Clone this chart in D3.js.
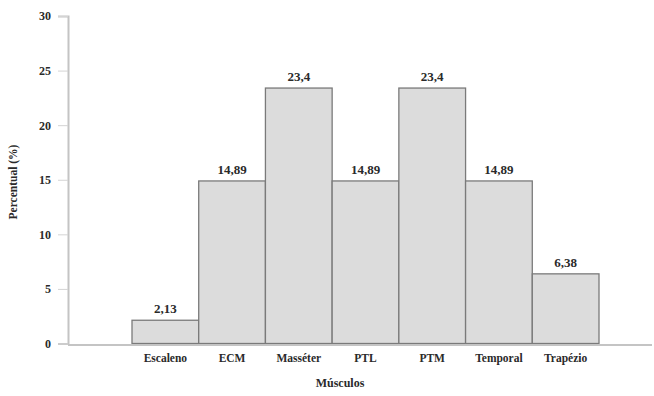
<!DOCTYPE html>
<html>
<head>
<meta charset="utf-8">
<script src="https://cdn.jsdelivr.net/npm/d3@7"></script>
<style>
  html, body { margin: 0; padding: 0; background: #fff; }
  svg { display: block; }
  svg text { font-family: "Liberation Serif", "Times New Roman", "DejaVu Serif", serif !important; font-weight: bold; fill: #2a2a2a; }
</style>
</head>
<body>
<svg id="chart" width="654" height="396"></svg>
<script>
// Muscle groups and their percentages
const categories = ["Escaleno", "ECM", "Masséter", "PTL", "PTM", "Temporal", "Trapézio"];
const values = [2.13, 14.89, 23.4, 14.89, 23.4, 14.89, 6.38];
const valueLabels = ["2,13", "14,89", "23,4", "14,89", "23,4", "14,89", "6,38"];
const yTicks = [0, 5, 10, 15, 20, 25, 30];

const serif = "'Liberation Serif', 'Times New Roman', 'DejaVu Serif', serif";
const svg = d3.select("#chart");

const axisX0 = 68, axisX1 = 652;
const y = d3.scaleLinear().domain([0, 30]).range([343.5, 16]);
const x = d3.scaleBand().domain(categories).range([132, 599]).paddingInner(0).paddingOuter(0);

// Bars
svg.append("g").selectAll("rect")
  .data(values)
  .join("rect")
  .attr("x", (d, i) => x(categories[i]))
  .attr("y", d => y(d))
  .attr("width", x.bandwidth())
  .attr("height", d => y(0) - y(d))
  .attr("fill", "#dcdcdc")
  .attr("stroke", "#7a7a7a")
  .attr("stroke-width", 1.3);

// Value labels above bars
svg.append("g").selectAll("text")
  .data(values)
  .join("text")
  .attr("x", (d, i) => x(categories[i]) + x.bandwidth() / 2)
  .attr("y", d => y(d) - 7)
  .attr("text-anchor", "middle")
  .attr("font-family", serif)
  .attr("font-size", 13)
  .text((d, i) => valueLabels[i]);

// Y axis
const yAxis = d3.axisLeft(y).tickValues(yTicks).tickSize(10).tickPadding(7);
const gy = svg.append("g").attr("transform", `translate(${axisX0},0)`).call(yAxis)
  .attr("font-family", serif);
gy.select(".domain").attr("stroke", "#c4c4c4").attr("stroke-width", 2);
gy.selectAll(".tick line").attr("stroke", "#d4d4d4").attr("stroke-width", 1);
gy.selectAll(".tick text")
  .attr("font-weight", "bold")
  .attr("font-size", 12)
  .attr("fill", "#2a2a2a");

// X axis baseline
svg.append("line")
  .attr("x1", axisX0).attr("x2", axisX1)
  .attr("y1", y(0) + 1.5).attr("y2", y(0) + 1.5)
  .attr("stroke", "#c4c4c4").attr("stroke-width", 2);

// Category labels
svg.append("g").selectAll("text")
  .data(categories)
  .join("text")
  .attr("x", d => x(d) + x.bandwidth() / 2)
  .attr("y", 362)
  .attr("text-anchor", "middle")
  .attr("font-family", serif)
  .attr("font-size", 11.5)
  .text(d => d);

// Axis titles
svg.append("text")
  .attr("x", 340).attr("y", 387)
  .attr("text-anchor", "middle")
  .attr("font-family", serif)
  .attr("font-size", 12)
  .text("Músculos");

svg.append("text")
  .attr("transform", "translate(17,182) rotate(-90)")
  .attr("text-anchor", "middle")
  .attr("font-family", serif)
  .attr("font-size", 11.5)
  .text("Percentual (%)");
</script>
</body>
</html>
